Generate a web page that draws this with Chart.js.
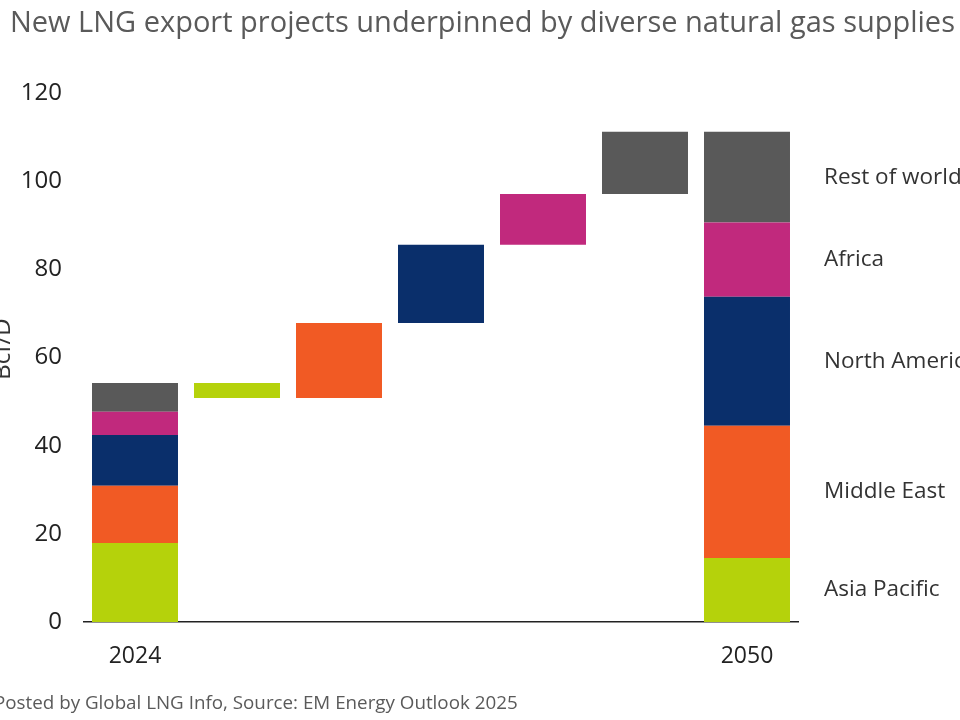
<!DOCTYPE html>
<html>

<head>
    <meta charset="UTF-8">
    <title>New LNG export projects</title>
    <script src="https://cdn.jsdelivr.net/npm/chart.js@4.4.1/dist/chart.umd.min.js"></script>
    <style>
        body { margin: 0; background: #ffffff; }
    </style>
</head>

<body>
    <canvas id="myChart" width="960" height="720"></canvas>
    <script type="text/javascript">
        // Columns of the waterfall: start year, one step per region, end year
        var columns = ["2024", "", "", "", "", "", "2050"];
        var regions = ["Asia Pacific", "Middle East", "North America", "Africa", "Rest of world"];
        var colors = ["#b5d20b", "#f15a24", "#0a2f6b", "#c1297d", "#595959"];

        // Bcf/D
        var supply2024 = [17.9, 13.0, 11.5, 5.3, 6.5];
        var supply2050 = [14.5, 30.0, 29.3, 16.8, 20.6];
        var yTicks = [0, 20, 40, 60, 80, 100, 120];

        var titleText = "New LNG export projects underpinned by diverse natural gas supplies";
        var footerText = "Posted by Global LNG Info, Source: EM Energy Outlook 2025";
        var yTitle = "Bcf/D";

        // build [low, high] floating bars for each region
        var datasets = [];
        var base2024 = 0, base2050 = 0;
        var total2024 = supply2024.reduce(function (a, b) { return a + b; }, 0);
        var running = total2024;
        for (var i = 0; i < regions.length; i++) {
            var data = [];
            for (var c = 0; c < columns.length; c++) data.push(null);
            data[0] = [base2024, base2024 + supply2024[i]];
            data[columns.length - 1] = [base2050, base2050 + supply2050[i]];
            var change = supply2050[i] - supply2024[i];
            data[i + 1] = [running, running + change];
            running += change;
            base2024 += supply2024[i];
            base2050 += supply2050[i];
            datasets.push({
                label: regions[i],
                data: data,
                backgroundColor: colors[i],
                borderWidth: 0,
                grouped: false,
                barPercentage: 0.843,
                categoryPercentage: 1
            });
        }

        var textPlugin = {
            id: "texts",
            afterDraw: function (chart) {
                var ctx = chart.ctx;
                var y = chart.scales.y;
                ctx.save();
                ctx.fillStyle = "#5a5a5a";
                ctx.textAlign = "left";
                ctx.textBaseline = "alphabetic";
                ctx.font = "29px 'Open Sans'";
                ctx.fillText(titleText, 10, 32);
                ctx.font = "18.8px 'Open Sans'";
                ctx.fillText(footerText, -6, 709);

                // y axis title, half cut off at the left edge
                ctx.save();
                ctx.translate(10, 349);
                ctx.rotate(-Math.PI / 2);
                ctx.textAlign = "center";
                ctx.fillStyle = "#333333";
                ctx.font = "24px 'Open Sans'";
                ctx.fillText(yTitle, 0, 0);
                ctx.restore();

                // y tick labels, right aligned against the axis
                ctx.fillStyle = "#222222";
                ctx.font = "24px 'Open Sans'";
                ctx.textAlign = "right";
                ctx.textBaseline = "middle";
                yTicks.forEach(function (t) {
                    ctx.fillText(String(t), 62, y.getPixelForValue(t));
                });

                // region names next to the 2050 bar
                ctx.textAlign = "left";
                ctx.fillStyle = "#333333";
                ctx.font = "22.5px 'Open Sans'";
                var acc = 0;
                for (var k = 0; k < regions.length; k++) {
                    var mid = acc + supply2050[k] / 2;
                    acc += supply2050[k];
                    ctx.fillText(regions[k], 824, y.getPixelForValue(mid));
                }
                ctx.restore();
            }
        };

        new Chart("myChart", {
            type: "bar",
            data: {
                labels: columns,
                datasets: datasets
            },
            options: {
                responsive: false,
                animation: false,
                layout: { padding: { left: 0, right: 162, top: 93, bottom: 48 } },
                plugins: {
                    legend: { display: false },
                    tooltip: { enabled: false }
                },
                scales: {
                    x: {
                        afterFit: function (s) { s.height = 50; },
                        grid: { display: false },
                        border: { display: true, color: "#222222", width: 1.5 },
                        ticks: {
                            color: "#222222",
                            padding: 13,
                            font: { family: "Open Sans", size: 23 },
                            maxRotation: 0,
                            autoSkip: false
                        }
                    },
                    y: {
                        min: 0,
                        max: 120,
                        afterFit: function (s) { s.width = 84; },
                        grid: { display: false },
                        border: { display: false },
                        ticks: {
                            stepSize: 20,
                            display: false
                        }
                    }
                }
            },
            plugins: [textPlugin]
        });
    </script>
</body>

</html>
